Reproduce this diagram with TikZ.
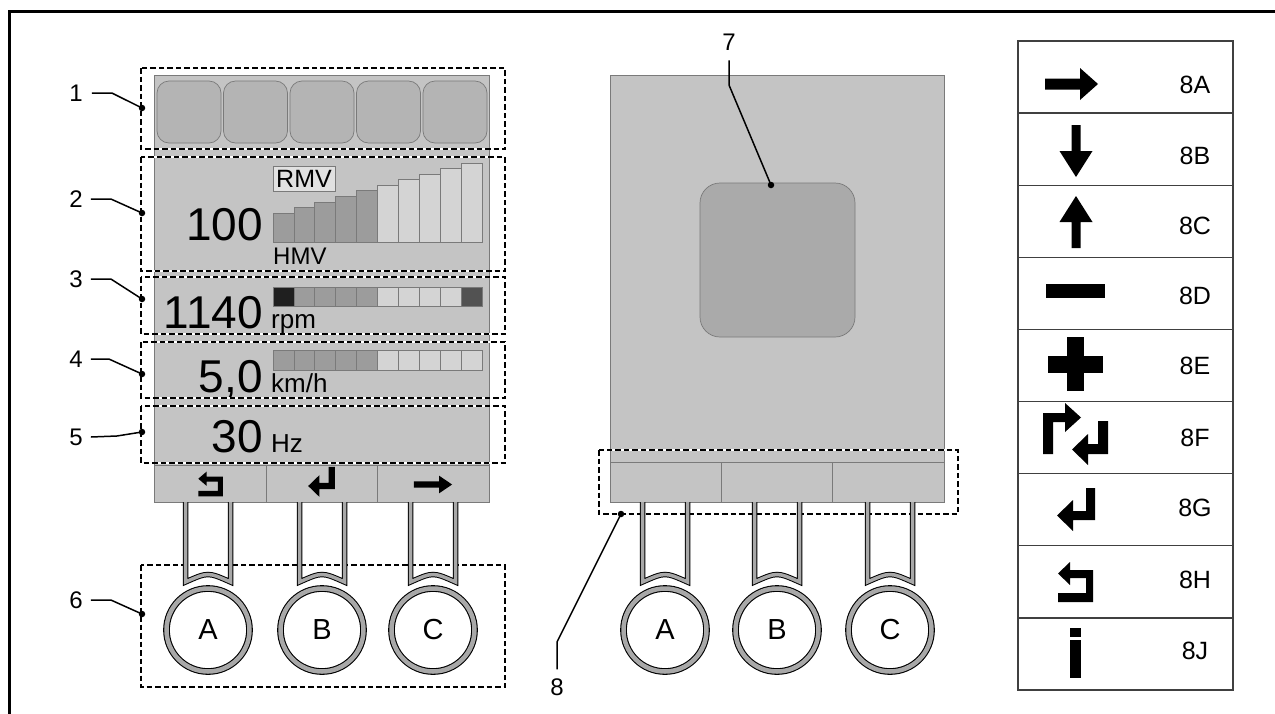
\documentclass[tikz,border=0pt]{standalone}
\usepackage{fontspec}
\setmainfont{Liberation Sans}
\definecolor{panel}{HTML}{C4C4C4}
\definecolor{tile}{HTML}{B4B4B4}
\definecolor{midbar}{HTML}{9C9C9C}
\definecolor{lightbar}{HTML}{D4D4D4}
\definecolor{sq}{HTML}{AAAAAA}
\definecolor{ringgray}{HTML}{A8A8A8}
\definecolor{edge}{HTML}{7A7A7A}
\newcommand\fs[1]{\fontsize{#1}{#1}\selectfont}
\newcommand\dbx[4]{\draw[white,line width=1.8pt] (#1,#2) rectangle (#3,#4);\draw[dbox] (#1,#2) rectangle (#3,#4);}
\tikzset{
  dbox/.style={draw=black,line width=1.8pt,dash pattern=on 5.5pt off 3pt},
  callout/.style={draw=black,line width=1.5pt},
  cdot/.style={circle,fill=black,inner sep=0pt,minimum size=6.5pt},
  lbl/.style={inner sep=0pt,font=\fs{24}},
  big/.style={inner sep=0pt,font=\fs{46}},
  unit/.style={inner sep=0pt,font=\fs{26}},
  tlbl/.style={inner sep=0pt,font=\fs{25}},
  cell/.style={draw=edge,line width=0.7pt},
  stem/.style={draw=black,line width=1pt,double=ringgray,double distance=3.5pt},
  btn/.style={circle,draw=black,line width=1.1pt,double=ringgray,double distance=4.5pt,fill=white,minimum size=83pt,inner sep=0pt,font=\fs{29}},
  pics/arrR/.style={code={\fill (-26.5,-5.5) -- (8.5,-5.5) -- (8.5,-16) -- (26.5,0) -- (8.5,16) -- (8.5,5.5) -- (-26.5,5.5) -- cycle;}},
  pics/arrD/.style={code={\fill (-4.5,-26) -- (4.5,-26) -- (4.5,0) -- (16.5,0) -- (0,26) -- (-16.5,0) -- (-4.5,0) -- cycle;}},
  pics/arrU/.style={code={\fill (-4.5,26) -- (4.5,26) -- (4.5,0) -- (16.5,0) -- (0,-26) -- (-16.5,0) -- (-4.5,0) -- cycle;}},
  pics/minusicon/.style={code={\fill (-29.5,-7) rectangle (29.5,7);}},
  pics/plusicon/.style={code={\fill (-27.5,-8.5) rectangle (27.5,8.5); \fill (-8.5,-27) rectangle (8.5,27);}},
  pics/swapicon/.style={code={
    \fill (-32.5,20) -- (-32.5,-21) -- (-10.5,-21) -- (-10.5,-31) -- (5.5,-16.5) -- (-10.5,-2) -- (-10.5,-12) -- (-22.5,-12) -- (-22.5,20) -- cycle;
    \fill (22.5,-13) -- (32.5,-13) -- (32.5,20) -- (12.5,20) -- (12.5,31) -- (-3.5,15.5) -- (12.5,0) -- (12.5,10) -- (22.5,10) -- cycle;}},
  pics/entericon/.style={code={\fill (10,-22.5) -- (19,-22.5) -- (19,9.5) -- (-3,9.5) -- (-3,20.5) -- (-19,5) -- (-3,-10.5) -- (-3,0.5) -- (10,0.5) -- cycle;}},
  pics/backicon/.style={code={\fill (-17.5,-8.5) -- (-5.5,-20) -- (-5.5,-12) -- (17.5,-12) -- (17.5,20) -- (-17.5,20) -- (-17.5,11) -- (10.5,11) -- (10.5,-4) -- (-5.5,-4) -- (-5.5,3) -- cycle;}},
  pics/infoicon/.style={code={\fill (-5.5,-25) rectangle (5.5,-16); \fill (-5.5,-13) rectangle (5.5,25);}}
}
\begin{document}
\begin{tikzpicture}[x=1pt,y=-1pt]
\useasboundingbox (0,0) rectangle (1275,713);
\fill[white] (0,0) rectangle (1275,713);
% outer frame
\draw[line width=3pt] (9,11) rectangle (1300,740);

% ===== left display =====
\fill[panel] (154,75) rectangle (489,502);
\draw[edge,line width=0.7pt] (154,75) rectangle (489,502);
% row 1 tiles
\foreach \i in {0,...,4} {
  \draw[cell,fill=tile,rounded corners=12pt] ({157+66.5*\i},81) rectangle ({221+66.5*\i},143);
}
% row 2 bars
\foreach \i in {0,...,9} {
  \pgfmathsetmacro\col{\i<5 ? "midbar" : "lightbar"}
  \draw[cell,fill=\col] ({273+20.9*\i},{213-5.55*\i}) rectangle ({273+20.9*(\i+1)},242);
}
\node[draw=edge,line width=0.7pt,fill=lightbar!70!white,inner sep=0pt,minimum width=62pt,minimum height=25pt,font=\fs{25}] (rmv) at (304,178.5) {RMV};
\node[unit,font=\fs{24},anchor=base west] (hmv) at (273,264) {HMV};
\node[big,anchor=base east] (v100) at (263,240) {100};
% row 3 cells
\foreach \i/\c in {0/black!88,1/midbar,2/midbar,3/midbar,4/midbar,5/lightbar,6/lightbar,7/lightbar,8/lightbar,9/black!68} {
  \draw[cell,fill=\c] ({273+20.9*\i},287) rectangle ({273+20.9*(\i+1)},306);
}
\node[big,anchor=base east] (v1140) at (263,328) {1140};
\node[unit,anchor=base west] (rpm) at (271,328) {rpm};
% row 4 cells
\foreach \i in {0,...,9} {
  \pgfmathsetmacro\col{\i<5 ? "midbar" : "lightbar"}
  \draw[cell,fill=\col] ({273+20.9*\i},350) rectangle ({273+20.9*(\i+1)},370);
}
\node[big,anchor=base east] (v50) at (263,392) {5,0};
\node[unit,anchor=base west] (kmh) at (271,392) {km/h};
% row 5
\node[big,anchor=base east] (v30) at (263,452) {30};
\node[unit,anchor=base west] (hz) at (271,452) {Hz};
% soft keys left
\draw[edge,line width=0.7pt] (154,465) -- (489,465);
\draw[edge,line width=0.7pt] (266,465) -- (266,502) (377,465) -- (377,502);
\pic[xscale=0.7,yscale=0.62] at (210.5,484) {backicon};
\pic[scale=0.7] at (321.5,482.5) {entericon};
\pic[xscale=0.72,yscale=0.55] at (433,484.5) {arrR};
% dashed groups left
\dbx{141}{68}{505}{149}
\dbx{141}{157}{505}{271}
\dbx{141}{277}{505}{334}
\dbx{141}{342}{505}{398}
\dbx{141}{406}{505}{463}
\dbx{141}{565}{505}{687}
% stems and buttons left
\foreach \c in {208,322,433} {
  \draw[stem] ({\c-22.5},502) -- ({\c-22.5},582) .. controls (\c,572) .. ({\c+22.5},582) -- ({\c+22.5},502);
}
\node[btn] (lA) at (208,630) {A};
\node[btn] (lB) at (322,630) {B};
\node[btn] (lC) at (433,630) {C};

% left callouts
\node[lbl] (n1) at (76,93) {1};
\node[lbl] (n2) at (76,199) {2};
\node[lbl] (n3) at (76,279) {3};
\node[lbl] (n4) at (76,359) {4};
\node[lbl] (n5) at (76,437) {5};
\node[lbl] (n6) at (76,600) {6};
\node[cdot] (d1) at (142,108) {};
\node[cdot] (d2) at (142,213) {};
\node[cdot] (d3) at (142,299) {};
\node[cdot] (d4) at (142,374) {};
\node[cdot] (d5) at (142,432) {};
\node[cdot] (d6) at (142,614) {};
\draw[callout] ([xshift=9pt]n1.east) -- ++(20,0) -- (d1.center);
\draw[callout] ([xshift=8pt]n2.east) -- ++(20,0) -- (d2.center);
\draw[callout] ([xshift=8pt]n3.east) -- ++(20,0) -- (d3.center);
\draw[callout] ([xshift=8pt]n4.east) -- ++(18,0) -- (d4.center);
\draw[callout] ([xshift=8pt]n5.east) -- ++(26,-1) -- (d5.center);
\draw[callout] ([xshift=8pt]n6.east) -- ++(20,0) -- (d6.center);

% ===== middle display =====
\fill[panel] (610,75) rectangle (944,502);
\draw[edge,line width=0.7pt] (610,75) rectangle (944,502);
\draw[cell,fill=sq,rounded corners=20pt] (700,183) rectangle (855,337);
\draw[edge,line width=0.7pt] (610,462) -- (944,462);
\draw[edge,line width=0.7pt] (721,462) -- (721,502) (832,462) -- (832,502);
\dbx{599}{450}{958}{514}
\foreach \c in {665,777,890} {
  \draw[stem] ({\c-22.5},502) -- ({\c-22.5},582) .. controls (\c,572) .. ({\c+22.5},582) -- ({\c+22.5},502);
}
\node[btn] (mA) at (665,630) {A};
\node[btn] (mB) at (777,630) {B};
\node[btn] (mC) at (890,630) {C};
\node[lbl] (n7) at (729,42) {7};
\node[cdot] (d7) at (771,185) {};
\draw[callout] ([yshift=-10pt]n7.south) -- (729,85) -- (d7.center);
\node[lbl] (n8) at (557,687) {8};
\node[cdot] (d8) at (621,514) {};
\draw[callout] ([yshift=9pt]n8.north) -- (557,642) -- (d8.center);

% ===== legend table =====
\draw[line width=1.3pt,black!75] (1018,41) rectangle (1233,690);
\foreach \i in {1,...,8} {
  \draw[line width=1.3pt,black!75] (1018,{41+72.11*\i}) -- (1233,{41+72.11*\i});
}
\pic at (1071.5,84) {arrR};
\pic at (1076,151) {arrD};
\pic at (1076,222) {arrU};
\pic at (1075.5,291) {minusicon};
\pic at (1075.5,364) {plusicon};
\pic at (1075.5,434) {swapicon};
\pic at (1076,510.5) {entericon};
\pic at (1075.5,582) {backicon};
\pic at (1075.5,653) {infoicon};
\node[tlbl] (t8A) at (1195,85) {8A};
\node[tlbl] (t8B) at (1195,156) {8B};
\node[tlbl] (t8C) at (1195,226) {8C};
\node[tlbl] (t8D) at (1195,296) {8D};
\node[tlbl] (t8E) at (1195,366) {8E};
\node[tlbl] (t8F) at (1195,438) {8F};
\node[tlbl] (t8G) at (1195,508) {8G};
\node[tlbl] (t8H) at (1195,580) {8H};
\node[tlbl] (t8J) at (1195,651) {8J};
\end{tikzpicture}
\end{document}
